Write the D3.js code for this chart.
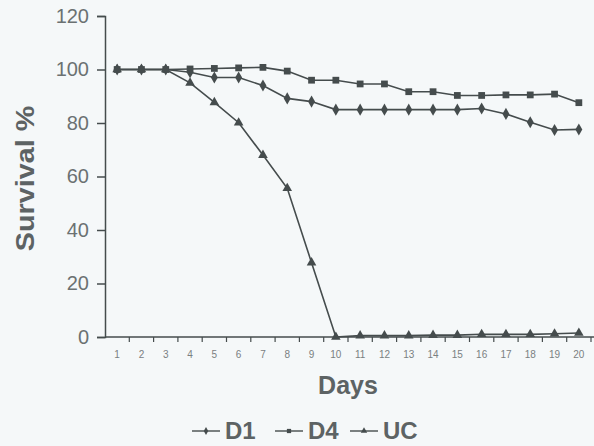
<!DOCTYPE html>
<html>
<head>
<meta charset="utf-8">
<script src="https://cdn.jsdelivr.net/npm/d3@7"></script>
<style>
  html, body { margin: 0; padding: 0; background: #f5f8f9; }
  svg { display: block; font-family: "Liberation Sans", Arial, sans-serif; }
</style>
</head>
<body>
<svg id="chart"></svg>
<script>
// Data
const days = d3.range(1, 21);
const d1 = [100, 100, 100, 99, 97, 97, 94, 89.2, 88, 85, 85, 85, 85, 85, 85, 85.4, 83.4, 80.3, 77.4, 77.6];
const d4 = [100, 100, 100, 100.2, 100.4, 100.6, 100.8, 99.4, 96, 96, 94.6, 94.6, 91.7, 91.7, 90.3, 90.3, 90.5, 90.5, 90.8, 87.6];
const uc = [100, 100, 100, 95, 87.7, 80.1, 68, 55.6, 27.8, 0, 0.5, 0.5, 0.5, 0.7, 0.7, 1, 1, 1, 1.2, 1.5];
const yTicks = [0, 20, 40, 60, 80, 100, 120];
const seriesNames = ['D1', 'D4', 'UC'];

const width = 594, height = 446;
const margin = {top: 16, right: 2, bottom: 109, left: 105};
const ink = '#454c4d';
const textColor = '#5d6364';

const svg = d3.select('#chart')
  .attr('width', width)
  .attr('height', height)
  .attr('viewBox', [0, 0, width, height]);

const x = d3.scaleBand(days, [margin.left, margin.left + 20 * 24.3]);
const y = d3.scaleLinear([0, 120], [height - margin.bottom, margin.top]);

// marker shapes per series
const symbols = [
  d3.symbol(d3.symbolDiamond, 42),
  d3.symbol(d3.symbolSquare, 46),
  d3.symbol(d3.symbolTriangle, 40)
];
const series = [d1, d4, uc];

// Y axis
svg.append('g')
  .attr('transform', `translate(${margin.left},0)`)
  .call(d3.axisLeft(y).tickValues(yTicks).tickSize(8).tickPadding(8))
  .call(g => g.select('.domain').attr('stroke', ink).attr('stroke-width', 1.5))
  .call(g => g.selectAll('.tick line').attr('stroke', ink).attr('stroke-width', 1.5))
  .call(g => g.selectAll('.tick text')
    .attr('fill', '#6b7172')
    .attr('font-size', 20));

// X axis: ticks sit between the days
const xAxis = svg.append('g')
  .attr('transform', `translate(0,${y(0)})`);
xAxis.append('line')
  .attr('x1', margin.left).attr('x2', width)
  .attr('stroke', ink).attr('stroke-width', 1.5);
xAxis.selectAll('line.tk')
  .data(days)
  .join('line')
  .attr('class', 'tk')
  .attr('x1', d => x(d) + x.bandwidth())
  .attr('x2', d => x(d) + x.bandwidth())
  .attr('y1', 0).attr('y2', 5)
  .attr('stroke', ink).attr('stroke-width', 1.2);
xAxis.selectAll('text')
  .data(days)
  .join('text')
  .attr('x', d => x(d) + x.bandwidth() / 2)
  .attr('y', 21)
  .attr('text-anchor', 'middle')
  .attr('fill', '#7a8081')
  .attr('font-size', 10)
  .text(d => d);

// Axis titles
svg.append('text')
  .attr('transform', `translate(34,${y(60) + 2}) rotate(-90) scale(1.15,1)`)
  .attr('text-anchor', 'middle')
  .attr('font-weight', 'bold')
  .attr('font-size', 25)
  .attr('fill', textColor)
  .text('Survival %');

svg.append('text')
  .attr('x', 348)
  .attr('y', 394)
  .attr('text-anchor', 'middle')
  .attr('font-weight', 'bold')
  .attr('font-size', 25)
  .attr('fill', textColor)
  .text('Days');

// Lines and markers
const line = d3.line()
  .x((d, i) => x(days[i]) + x.bandwidth() / 2)
  .y(d => y(d));

series.forEach((s, k) => {
  const g = svg.append('g');
  g.append('path')
    .attr('d', line(s))
    .attr('fill', 'none')
    .attr('stroke', ink)
    .attr('stroke-width', 1.6);
  g.selectAll('path.m')
    .data(s)
    .join('path')
    .attr('class', 'm')
    .attr('transform', (d, i) => `translate(${x(days[i]) + x.bandwidth() / 2},${y(d)})`)
    .attr('d', symbols[k])
    .attr('fill', ink);
});

// Legend
const legendX = [192, 275, 350];
const legend = svg.append('g').attr('transform', 'translate(0,431)');
seriesNames.forEach((name, k) => {
  const g = legend.append('g').attr('transform', `translate(${legendX[k]},0)`);
  g.append('line')
    .attr('x1', 0).attr('x2', 28)
    .attr('stroke', ink).attr('stroke-width', 1.4);
  g.append('path')
    .attr('transform', 'translate(14,0)')
    .attr('d', d3.symbol(symbols[k].type(), 18))
    .attr('fill', ink);
  g.append('text')
    .attr('x', 33)
    .attr('y', 8)
    .attr('font-size', 24)
    .attr('font-weight', 'bold')
    .attr('fill', textColor)
    .text(name);
});
</script>
</body>
</html>
